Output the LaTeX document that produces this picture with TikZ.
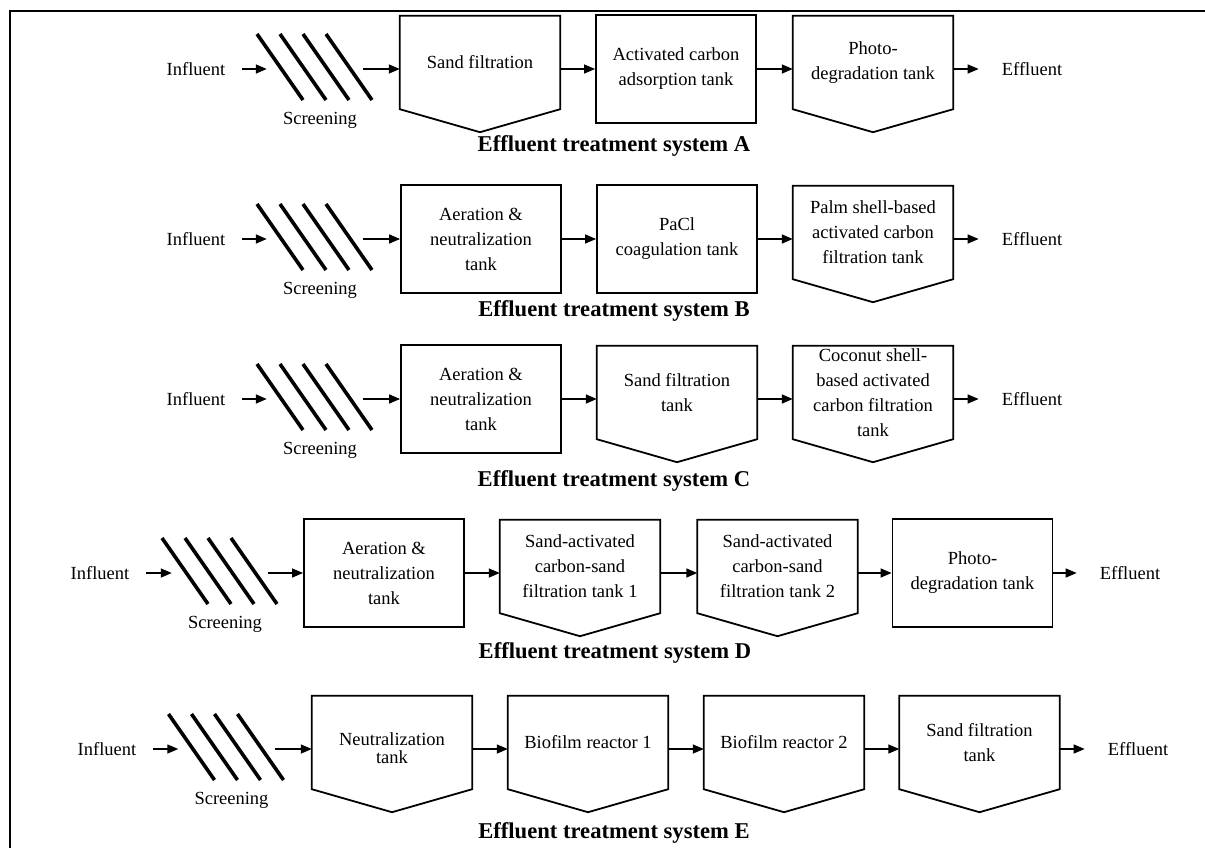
\documentclass[tikz,border=0pt]{standalone}
\usepackage{fontspec}
\setmainfont{Liberation Serif}
\usetikzlibrary{calc,arrows.meta,positioning}

\begin{document}
\begin{tikzpicture}[
        %We set the units to pixels and define some styles
        x=1pt, y=-1pt,
        every node/.style={color=black, font=\fontsize{18.5}{25}\selectfont},
        flow/.style={line width=1.4pt, -{Triangle[length=11pt,width=9pt]}},
        tank line/.style={line width=1.8pt, line join=miter},
        tank/.style={draw, tank line, minimum width=160pt, minimum height=108pt, align=center, inner sep=0pt},
        tank down/.style={minimum width=160pt, minimum height=93pt, yshift=6.5pt, align=center, inner sep=0pt},
        bar/.style={line width=3.6pt},
        screen/.style={minimum width=96pt, minimum height=66pt, inner sep=0pt, yshift=2pt},
        screen label/.style={below=12pt of #1, xshift=5pt, inner sep=0pt},
        inlet/.style={inner sep=0pt, inner xsep=17pt},
        outlet/.style={inner sep=0pt, inner xsep=23pt},
        system/.style={font=\fontsize{22.6}{26}\selectfont\bfseries, inner sep=0pt},
    ]
    \useasboundingbox (0,0) rectangle (1205,848);
    % frame
    \draw[line width=1.2pt] (10,848) -- (10,11) -- (1205,11);

    % Important coordinates are defined
    \coordinate (rowA) at (0,69);
    \coordinate (rowB) at (0,239);
    \coordinate (rowC) at (0,399);
    \coordinate (rowD) at (0,573);
    \coordinate (rowE) at (0,749);

    % system A
    \node[inlet] (inA) at (196,69) {Influent};
    \node[screen] (sA) at (315,69) {};
    \node[screen label=sA] (lA) {Screening};
    \node[tank down] (a1) at (480,69) {Sand filtration};
    \node[tank] (a2) at (676,69) {Activated carbon\\adsorption tank};
    \node[tank down] (a3) at (873,69) {Photo-\\degradation tank};
    \node[outlet] (outA) at (1032,69) {Effluent};
    \node[system] (tA) at (614,146) {Effluent treatment system A};

    % system B
    \node[inlet] (inB) at (196,239) {Influent};
    \node[screen] (sB) at (315,239) {};
    \node[screen label=sB] (lB) {Screening};
    \node[tank] (b1) at (481,239) {Aeration \&\\neutralization\\tank};
    \node[tank] (b2) at (677,239) {PaCl\\coagulation tank};
    \node[tank down] (b3) at (873,239) {Palm shell-based\\activated carbon\\filtration tank};
    \node[outlet] (outB) at (1032,239) {Effluent};
    \node[system] (tB) at (614,311) {Effluent treatment system B};

    % system C
    \node[inlet] (inC) at (196,399) {Influent};
    \node[screen] (sC) at (315,399) {};
    \node[screen label=sC] (lC) {Screening};
    \node[tank] (c1) at (481,399) {Aeration \&\\neutralization\\tank};
    \node[tank down] (c2) at (677,399) {Sand filtration\\tank};
    \node[tank down] (c3) at (873,399) {Coconut shell-\\based activated\\carbon filtration\\tank};
    \node[outlet] (outC) at (1032,399) {Effluent};
    \node[system] (tC) at (614,481) {Effluent treatment system C};

    % system D
    \node[inlet] (inD) at (100,573) {Influent};
    \node[screen] (sD) at (220,573) {};
    \node[screen label=sD] (lD) {Screening};
    \node[tank] (d1) at (384,573) {Aeration \&\\neutralization\\tank};
    \node[tank down] (d2) at (580,573) {Sand-activated\\carbon-sand\\filtration tank 1};
    \node[tank down] (d3) at (777.5,573) {Sand-activated\\carbon-sand\\filtration tank 2};
    \node[tank] (d4) at (972.5,573) {Photo-\\degradation tank};
    \node[outlet] (outD) at (1130,573) {Effluent};
    \node[system] (tD) at (615,653) {Effluent treatment system D};

    % system E
    \node[inlet] (inE) at (107,749) {Influent};
    \node[screen] (sE) at (226.5,749) {};
    \node[screen label=sE] (lE) {Screening};
    \node[tank down] (e1) at (392,749)
        {\raisebox{-7pt}[\height][\depth]{\begin{tabular}{@{}c@{}}Neutralization\\[-7pt]tank\end{tabular}}};
    \node[tank down] (e2) at (588,749) {Biofilm reactor 1};
    \node[tank down] (e3) at (784,749) {Biofilm reactor 2};
    \node[tank down] (e4) at (979.5,749) {Sand filtration\\tank};
    \node[outlet] (outE) at (1138,749) {Effluent};
    \node[system] (tE) at (614,833) {Effluent treatment system E};

    % pointed tanks
    \foreach \n in {a1,a3,b3,c2,c3,d2,d3,e1,e2,e3,e4}
        \draw[tank line] (\n.north west) -- (\n.north east) -- (\n.south east)
            -- ($(\n.south)+(0,23)$) -- (\n.south west) -- cycle;

    % screens
    \foreach \s in {sA,sB,sC,sD,sE}
        \foreach \i in {0,...,3}
            \draw[bar] ($(\s.center)+(-58+23*\i,-33)$) -- ($(\s.center)+(-12+23*\i,33)$);

    % flow lines
    \foreach \r/\p in {A/a,B/b,C/c}{
        \draw[flow] (in\r.east |- row\r) -- (s\r.west |- row\r);
        \draw[flow] (s\r.east |- row\r) -- (\p1.west |- row\r);
        \draw[flow] (\p1.east |- row\r) -- (\p2.west |- row\r);
        \draw[flow] (\p2.east |- row\r) -- (\p3.west |- row\r);
        \draw[flow] (\p3.east |- row\r) -- (out\r.west |- row\r);
    }
    \foreach \r/\p in {D/d,E/e}{
        \draw[flow] (in\r.east |- row\r) -- (s\r.west |- row\r);
        \draw[flow] (s\r.east |- row\r) -- (\p1.west |- row\r);
        \draw[flow] (\p1.east |- row\r) -- (\p2.west |- row\r);
        \draw[flow] (\p2.east |- row\r) -- (\p3.west |- row\r);
        \draw[flow] (\p3.east |- row\r) -- (\p4.west |- row\r);
        \draw[flow] (\p4.east |- row\r) -- (out\r.west |- row\r);
    }
\end{tikzpicture}
\end{document}
